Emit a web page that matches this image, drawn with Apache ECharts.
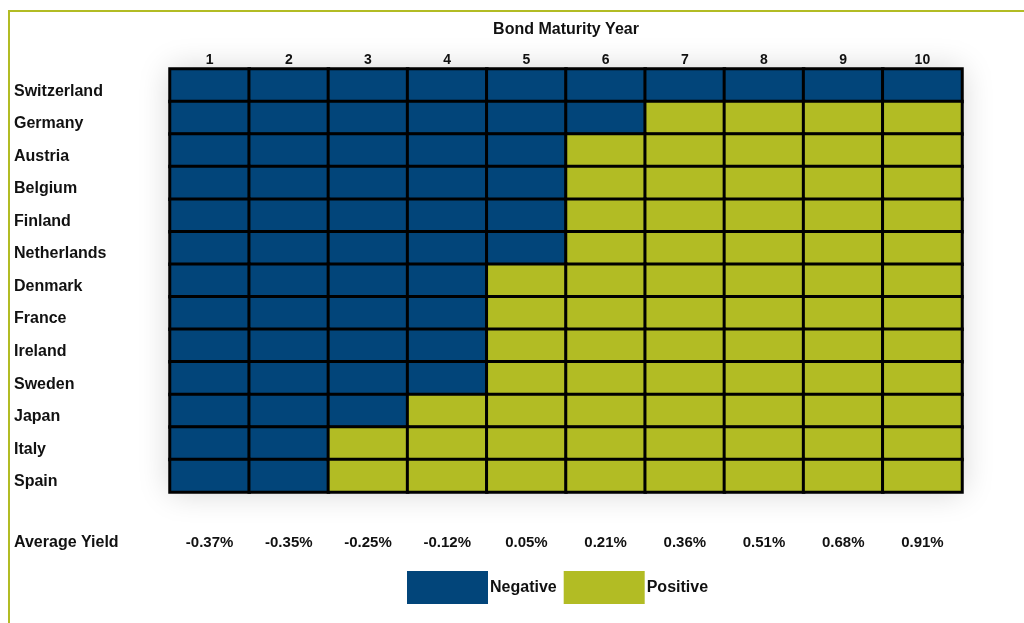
<!DOCTYPE html>
<html>
<head>
    <meta charset="utf-8">
    <script src="https://cdn.jsdelivr.net/npm/echarts@6/dist/echarts.min.js"></script>
    <style>
        html, body { margin: 0; padding: 0; background: #fff; }
        #main { width: 1024px; height: 623px; }
    </style>
</head>
<body>
<div id="main"></div>
<script type="text/javascript">
    var maturities = ['1', '2', '3', '4', '5', '6', '7', '8', '9', '10'];
    var countries = ['Switzerland', 'Germany', 'Austria', 'Belgium', 'Finland', 'Netherlands',
        'Denmark', 'France', 'Ireland', 'Sweden', 'Japan', 'Italy', 'Spain'];
    // N = negative yield, P = positive yield, one letter per maturity year
    var signs = [
        'NNNNNNNNNN',
        'NNNNNNPPPP',
        'NNNNNPPPPP',
        'NNNNNPPPPP',
        'NNNNNPPPPP',
        'NNNNNPPPPP',
        'NNNNPPPPPP',
        'NNNNPPPPPP',
        'NNNNPPPPPP',
        'NNNNPPPPPP',
        'NNNPPPPPPP',
        'NNPPPPPPPP',
        'NNPPPPPPPP'
    ];
    var averageYield = ['-0.37%', '-0.35%', '-0.25%', '-0.12%', '0.05%', '0.21%', '0.36%', '0.51%', '0.68%', '0.91%'];

    var BLUE = '#02457A';
    var OLIVE = '#B2BC24';
    var FONT = 'Liberation Sans';

    var chart = echarts.init(document.getElementById('main'));

    var negData = [], posData = [];
    for (var r = 0; r < signs.length; r++) {
        for (var c = 0; c < signs[r].length; c++) {
            if (signs[r][c] === 'N') negData.push([c, r, 1]);
            else posData.push([c, r, 1]);
        }
    }

    var option = {
        backgroundColor: '#fff',
        animation: false,
        textStyle: { fontFamily: FONT },
        grid: {
            left: 170, right: 62, top: 69, bottom: 131,
            show: true, borderWidth: 0, backgroundColor: '#fff',
            shadowBlur: 30, shadowColor: 'rgba(0,0,0,0.18)'
        },
        graphic: [{
            type: 'rect',
            shape: { x: 9, y: 11, width: 1040, height: 640 },
            style: { fill: 'none', stroke: OLIVE, lineWidth: 2 },
            silent: true
        }, {
            type: 'text',
            left: 14, top: 535,
            style: { text: 'Average Yield', font: 'bold 16px ' + FONT, fill: '#111' }
        }],
        legend: {
            left: 402, top: 566,
            itemWidth: 81, itemHeight: 33, itemGap: 7,
            icon: 'rect',
            itemStyle: { borderWidth: 0 },
            data: ['Negative', 'Positive'],
            textStyle: {
                fontFamily: FONT, fontWeight: 'bold', fontSize: 16, color: '#111',
                padding: [0, 0, 0, -3]
            }
        },
        xAxis: [{
            type: 'category',
            position: 'top',
            data: maturities,
            name: 'Bond Maturity Year',
            nameLocation: 'middle',
            nameGap: 31,
            nameTextStyle: { fontFamily: FONT, fontWeight: 'bold', fontSize: 16, color: '#111' },
            axisLine: { show: false },
            axisTick: { show: false },
            splitLine: { show: false },
            axisLabel: { margin: 2, fontFamily: FONT, fontWeight: 'bold', fontSize: 14, color: '#111' }
        }, {
            type: 'category',
            position: 'bottom',
            data: averageYield,
            axisLine: { show: false },
            axisTick: { show: false },
            axisLabel: { margin: 43, fontFamily: FONT, fontWeight: 'bold', fontSize: 15, color: '#111' }
        }],
        yAxis: {
            type: 'category',
            data: countries,
            inverse: true,
            axisLine: { show: false },
            axisTick: { show: false },
            splitLine: { show: false },
            axisLabel: {
                align: 'left', verticalAlign: 'top', lineHeight: 12, margin: 156,
                fontFamily: FONT, fontWeight: 'bold', fontSize: 16, color: '#111'
            }
        },
        series: [{
            name: 'Negative',
            type: 'heatmap',
            data: negData,
            itemStyle: { color: BLUE, borderColor: '#000', borderWidth: 3 }
        }, {
            name: 'Positive',
            type: 'heatmap',
            data: posData,
            itemStyle: { color: OLIVE, borderColor: '#000', borderWidth: 3 }
        }]
    };

    chart.setOption(option);
</script>
</body>
</html>
